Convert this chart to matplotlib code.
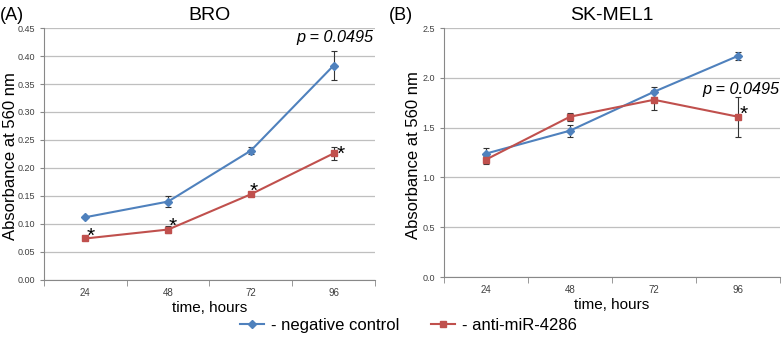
import matplotlib.pyplot as plt
from matplotlib.lines import Line2D
import numpy as np

plt.rcParams['font.family'] = ['Liberation Sans', 'DejaVu Sans']

hours = ["24", "48", "72", "96"]

# BRO
bro_ctrl = [0.112, 0.140, 0.231, 0.383]
bro_ctrl_err = [0.002, 0.010, 0.006, 0.026]
bro_anti = [0.074, 0.090, 0.153, 0.226]
bro_anti_err = [0.003, 0.007, 0.003, 0.011]

# SK-MEL1
sk_ctrl = [1.24, 1.47, 1.86, 2.22]
sk_ctrl_err = [0.06, 0.06, 0.05, 0.04]
sk_anti = [1.18, 1.61, 1.78, 1.61]
sk_anti_err = [0.04, 0.04, 0.10, 0.20]

blue = "#4F81BD"
red = "#C0504D"

fig = plt.figure(figsize=(7.82, 3.46), dpi=100)
axA = fig.add_axes([0.0563, 0.191, 0.4232, 0.728])
axB = fig.add_axes([0.5678, 0.199, 0.4296, 0.720])


def style_axis(ax, ylim, yticks, fmt, ylab_x):
    x = np.arange(len(hours))
    ax.set_xlim(-0.5, len(hours) - 0.5)
    ax.set_ylim(*ylim)
    ax.set_xticks(x)
    ax.set_xticklabels(hours)
    ax.set_xticks(np.arange(len(hours) + 1) - 0.5, minor=True)
    ax.tick_params(axis="x", which="major", length=0, labelsize=7, colors="#404040", pad=6)
    ax.tick_params(axis="x", which="minor", length=4, color="#888888")
    ax.set_yticks(yticks)
    ax.set_yticklabels([fmt.format(v) for v in yticks])
    ax.tick_params(axis="y", length=3, labelsize=6.5, colors="#404040", color="#888888")
    ax.grid(axis="y", color="#BFBFBF", linewidth=0.9)
    ax.set_axisbelow(True)
    for s in ["top", "right"]:
        ax.spines[s].set_visible(False)
    for s in ["left", "bottom"]:
        ax.spines[s].set_color("#888888")
    ax.set_xlabel("time, hours", fontsize=11, labelpad=2)
    ax.set_ylabel("Absorbance at 560 nm", fontsize=12)
    ax.yaxis.set_label_coords(ylab_x, 0.49)


def plot_series(ax, ctrl, ctrl_err, anti, anti_err):
    x = np.arange(len(hours))
    ax.errorbar(x, ctrl, yerr=ctrl_err, color=blue, marker="D", markersize=4,
                linewidth=1.5, ecolor="#333333", elinewidth=0.8, capsize=2.5,
                capthick=0.8)
    ax.errorbar(x, anti, yerr=anti_err, color=red, marker="s", markersize=5,
                linewidth=1.5, ecolor="#333333", elinewidth=0.8, capsize=2.5,
                capthick=0.8)


plot_series(axA, bro_ctrl, bro_ctrl_err, bro_anti, bro_anti_err)
style_axis(axA, (0, 0.45), np.arange(0, 0.451, 0.05), "{:.2f}", -0.079)
plot_series(axB, sk_ctrl, sk_ctrl_err, sk_anti, sk_anti_err)
style_axis(axB, (0, 2.5), np.arange(0, 2.51, 0.5), "{:.1f}", -0.068)

axA.set_title("BRO", fontsize=14, pad=6)
axB.set_title("SK-MEL1", fontsize=14, pad=6)
fig.text(0.0, 0.955, "(A)", fontsize=13, va="center", ha="left")
fig.text(0.497, 0.955, "(B)", fontsize=13, va="center", ha="left")

axA.text(0.995, 0.962, "p = 0.0495", transform=axA.transAxes, ha="right", va="center",
         fontsize=11.7, style="italic")
axB.text(0.998, 0.755, "p = 0.0495", transform=axB.transAxes, ha="right", va="center",
         fontsize=11.7, style="italic")

# significance stars next to anti-miR points (baseline offsets in points)
star_offsets_A = [(3.6, -2.2), (3.6, -1.5), (2.2, -2.2), (5.0, -4.4)]
for i, (dx, dy) in enumerate(star_offsets_A):
    axA.annotate("*", (i, bro_anti[i]), xytext=(dx, dy), textcoords="offset points",
                 fontsize=15, ha="center", va="baseline")
axB.annotate("*", (3, sk_anti[3]), xytext=(4.3, -2.2), textcoords="offset points",
             fontsize=15, ha="center", va="baseline")

handles = [Line2D([], [], color=blue, marker="D", markersize=4, linewidth=1.5),
           Line2D([], [], color=red, marker="s", markersize=5, linewidth=1.5)]
fig.legend(handles, ["- negative control", "- anti-miR-4286"], loc="center",
           bbox_to_anchor=(0.522, 0.06), ncol=2, frameon=False, fontsize=12,
           handlelength=1.45, columnspacing=1.9, handletextpad=0.4)

fig.savefig("out.png", dpi=100)
